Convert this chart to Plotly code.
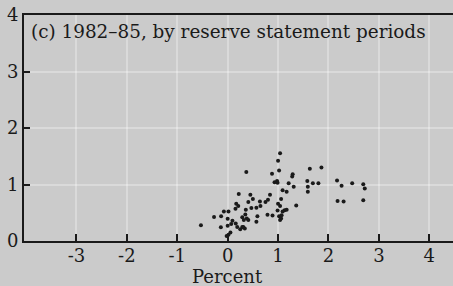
import plotly.graph_objects as go

# Scatter data (x = percent, y = value)
x_vals = [1.04, 1.00, 0.37, 1.02, 0.88, 1.63, 1.86, 1.29, 1.28, 0.98,
          0.93, 0.99, 1.21, 1.58, 1.69, 1.80, 2.17, 2.47, 2.69, 2.72,
          2.26, 1.31, 1.59, 1.09, 1.17, 1.59, 0.22, 0.45, 0.84, 0.50,
          1.06, 0.80, 0.75, 0.64, 0.41, 0.17, 0.21, 0.155, 0.65, 0.57,
          0.47, 0.36, 1.00, 1.04, 1.36, 2.18, 2.30, 2.69, -0.075, 0.016,
          -0.13, -0.27, 0.99, 1.13, 1.17, 1.09, 0.79, 0.89, 0.59, 1.02,
          1.06, 1.07, 0.29, 0.35, 0.38, 0.41, 0.32, 0.0, 0.095, 0.16,
          0.07, 0.0, -0.135, 0.19, 0.29, 0.34, 0.57, -0.53, 0.055, 0.016,
          -0.02, 1.04, 0.25, 0.31]
y_vals = [1.555, 1.42, 1.22, 1.25, 1.19, 1.28, 1.30, 1.18, 1.14, 1.06,
          1.04, 1.03, 1.02, 1.06, 1.02, 1.02, 1.07, 1.02, 1.005, 0.93,
          0.98, 0.96, 0.96, 0.90, 0.87, 0.87, 0.83, 0.82, 0.82, 0.745,
          0.745, 0.73, 0.69, 0.70, 0.69, 0.66, 0.62, 0.57, 0.62, 0.59,
          0.585, 0.555, 0.66, 0.62, 0.63, 0.71, 0.70, 0.72, 0.52, 0.52,
          0.44, 0.425, 0.54, 0.545, 0.555, 0.52, 0.465, 0.45, 0.44, 0.44,
          0.40, 0.455, 0.42, 0.47, 0.40, 0.37, 0.37, 0.395, 0.36, 0.31,
          0.30, 0.27, 0.245, 0.25, 0.25, 0.22, 0.34, 0.28, 0.15, 0.11,
          0.09, 0.37, 0.21, 0.25]

x_ticks = [-3, -2, -1, 0, 1, 2, 3, 4]
y_ticks = [0, 1, 2, 3, 4]
panel_title = "(c) 1982\u201385, by reserve statement periods"
x_title = "Percent"

BG = "#cbcbcb"
FONT = "DejaVu Serif"
INK = "#1a1a1a"

fig = go.Figure()
fig.add_trace(go.Scatter(
    x=x_vals, y=y_vals, mode="markers",
    marker=dict(size=4, color=INK, line=dict(width=0)),
    showlegend=False, hoverinfo="skip"))

fig.update_layout(
    width=453, height=286,
    margin=dict(l=24, r=0, t=15, b=45),
    paper_bgcolor=BG, plot_bgcolor=BG,
    font=dict(family=FONT, size=18, color=INK),
    xaxis=dict(
        range=[-4.04, 4.47], tickvals=x_ticks,
        ticktext=[str(v) if v >= 0 else "-" + str(-v) for v in x_ticks],
        ticks="inside", ticklen=7, tickwidth=1.5, tickcolor=INK,
        showline=True, linecolor=INK, linewidth=2, mirror=True,
        showgrid=True, gridcolor="rgba(255,255,255,0.3)", gridwidth=2,
        zeroline=False, automargin=False,
        tickfont=dict(family=FONT, size=18),
    ),
    yaxis=dict(
        range=[0, 4], tickvals=y_ticks,
        ticks="inside", ticklen=6, tickwidth=1.5, tickcolor=INK,
        showline=True, linecolor=INK, linewidth=2,
        showgrid=True, gridcolor="rgba(255,255,255,0.3)", gridwidth=2,
        zeroline=False, automargin=False,
        tickfont=dict(family=FONT, size=18),
    ),
    annotations=[
        dict(text=panel_title, xref="paper", yref="paper",
             x=0.012, y=0.925, xanchor="left", yanchor="middle",
             showarrow=False, font=dict(family=FONT, size=18.4, color=INK)),
        dict(text=x_title, xref="paper", yref="paper",
             x=0.474, y=-0.159, xanchor="center", yanchor="middle",
             showarrow=False, font=dict(family=FONT, size=18, color=INK)),
    ],
)

try:
    fig.update_xaxes(ticklabelstandoff=-3)
except Exception:
    pass

fig.write_html("out.html", config={"displayModeBar": False},
               post_script="document.body.style.margin='0';document.body.style.background='%s';" % BG)
